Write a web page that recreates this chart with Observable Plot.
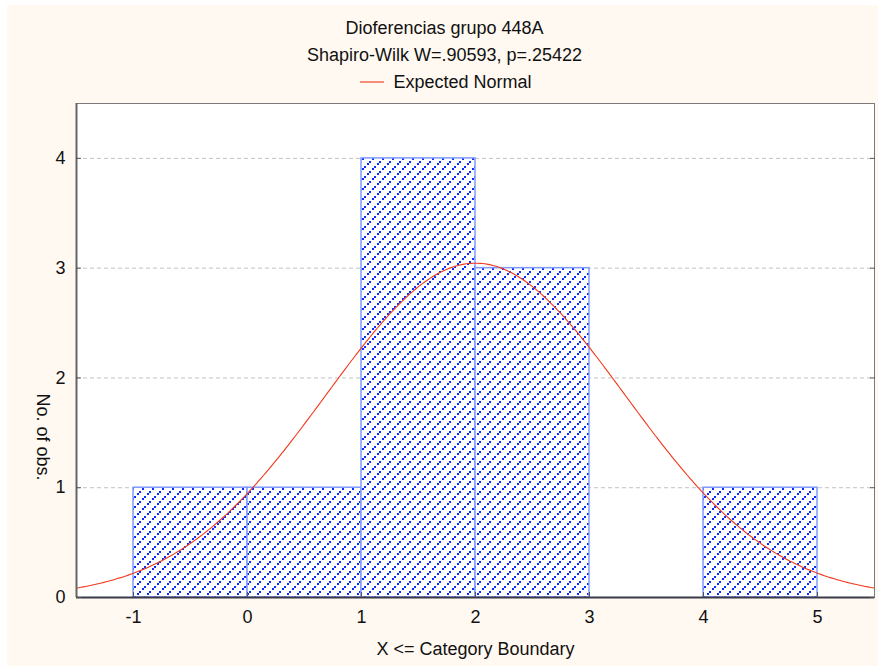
<!DOCTYPE html>
<html>
<head>
<meta charset="utf-8">
<script src="https://cdn.jsdelivr.net/npm/d3@7"></script>
<script src="https://cdn.jsdelivr.net/npm/@observablehq/plot@0.6"></script>
<style>
  html, body { margin: 0; padding: 0; background: #ffffff; }
  #chart { padding: 5px 0 0 7px; }
  svg { display: block; }
</style>
</head>
<body>
<div id="chart"></div>
<script>
// Histogram bins: each bar covers (binStart, binEnd]
const binStart = [-1, 0, 1, 2, 3, 4];
const binEnd = [0, 1, 2, 3, 4, 5];
const counts = [1, 1, 4, 3, 0, 1];

// Axis ranges and ticks
const xDomain = [-1.5, 5.5];
const yDomain = [0, 4.5];
const xTicks = [-1, 0, 1, 2, 3, 4, 5];
const yTicks = [0, 1, 2, 3, 4];

// Expected normal curve parameters (sample size, mean, sd, bin width)
const nObs = 10;
const normalMean = 2.0;
const normalSd = 1.31;
const binWidth = 1;

const titleText = "Dioferencias grupo 448A";
const subtitleText = "Shapiro-Wilk W=.90593, p=.25422";
const legendText = "Expected Normal";
const xLabel = "X <= Category Boundary";
const yLabel = "No. of obs.";

const bins = binStart.map((s, i) => ({x1: s, x2: binEnd[i], count: counts[i]}));

// Expected frequencies under the fitted normal, sampled across the x range
const curve = d3.range(xDomain[0], xDomain[1] + 0.001, 0.02).map(x => ({
  x,
  y: nObs * binWidth * Math.exp(-((x - normalMean) ** 2) / (2 * normalSd ** 2)) / (normalSd * Math.sqrt(2 * Math.PI))
}));

const font = "'Liberation Sans', Arial, Helvetica, sans-serif";
const ink = "#111111";
const fs = 18;
const plain = d => String(d).replace("\u2212", "-");

const chart = Plot.plot({
  width: 871,
  height: 661,
  marginLeft: 69,
  marginRight: 4,
  marginTop: 98,
  marginBottom: 69,
  style: {background: "#fff9f1", fontFamily: font, fontSize: fs + "px", color: ink},
  x: {domain: xDomain},
  y: {domain: yDomain},
  marks: [
    Plot.frame({fill: "white", stroke: "none"}),
    Plot.gridY(yTicks.slice(1), {stroke: "#c2c2c2", strokeOpacity: 1, strokeDasharray: "4,3"}),
    Plot.rectY(bins, {x1: "x1", x2: "x2", y: "count", fill: "url(#hatch)", stroke: "#7f9bff", strokeWidth: 1.5}),
    Plot.line(curve, {x: "x", y: "y", stroke: "#f2381c", strokeWidth: 1.1}),
    Plot.frame({stroke: "#7a7a7a"}),
    Plot.ruleX([xDomain[0]], {stroke: "#666666", strokeWidth: 2}),
    Plot.ruleY([yDomain[0]], {stroke: "#3a3a48", strokeWidth: 2}),
    Plot.axisY(yTicks, {anchor: "left", tickSize: -5, tickPadding: 16, tickFormat: plain, label: null, fontSize: fs, fill: ink, stroke: "#555"}),
    Plot.axisY(yTicks, {anchor: "right", tickSize: -5, tickFormat: () => "", label: null, stroke: "#555"}),
    Plot.axisX(xTicks, {anchor: "bottom", tickSize: -5, tickPadding: 18, tickFormat: plain, label: null, fontSize: fs, fill: ink, stroke: "#555"}),
    Plot.text([xLabel], {frameAnchor: "bottom", lineAnchor: "middle", dy: 52, fontSize: fs, fill: ink}),
    Plot.text([yLabel], {frameAnchor: "left", rotate: 90, dx: -34, dy: 43, fontSize: fs, fill: ink}),
    Plot.text([titleText], {frameAnchor: "top", lineAnchor: "middle", dx: -31, dy: -75, fontSize: fs, fill: ink}),
    Plot.text([subtitleText], {frameAnchor: "top", lineAnchor: "middle", dx: -31, dy: -48, fontSize: fs, fill: ink}),
    Plot.text([legendText], {frameAnchor: "top", lineAnchor: "middle", dx: -82, dy: -21, textAnchor: "start", fontSize: fs, fill: ink})
  ]
});

// Hatch fill used by the bars: dashed blue diagonal stripes
const svg = d3.select(chart);
const defs = svg.insert("defs", ":first-child");
const tile = 10;
const pat = defs.append("pattern")
  .attr("id", "hatch")
  .attr("patternUnits", "userSpaceOnUse")
  .attr("width", tile)
  .attr("height", tile);
pat.append("rect").attr("width", tile).attr("height", tile).attr("fill", "white");
[[0, 8], [2, 6], [5, 3], [7, 1]].forEach(([px, py]) => {
  pat.append("rect").attr("x", px).attr("y", py).attr("width", 2).attr("height", 2).attr("fill", "#0a2cff");
});

// Legend swatch for the expected normal line
svg.append("line")
  .attr("x1", 353).attr("x2", 377)
  .attr("y1", 77).attr("y2", 77)
  .attr("stroke", "#f2381c")
  .attr("stroke-width", 1.1);

document.getElementById("chart").appendChild(chart);
</script>
</body>
</html>
